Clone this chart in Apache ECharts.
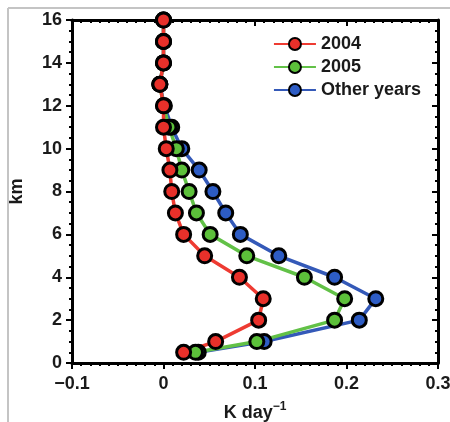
<!DOCTYPE html>
<html>
<head>
<meta charset="utf-8">
<script src="https://cdn.jsdelivr.net/npm/echarts@6/dist/echarts.min.js"></script>
<style>
  html, body { margin: 0; padding: 0; background: #fff; }
  #chart { width: 450px; height: 422px; }
</style>
</head>
<body>
<div id="chart"></div>
<script>
// heights (km) and heating rates (K/day)
const heights = [0.5, 1, 2, 3, 4, 5, 6, 7, 8, 9, 10, 11, 12, 13, 14, 15, 16];
const rate2004 = [0.022, 0.057, 0.104, 0.109, 0.083, 0.045, 0.022, 0.013, 0.009, 0.007, 0.003, 0.0, 0.0, -0.004, 0.0, 0.0, 0.0];
const rate2005 = [0.035, 0.102, 0.187, 0.198, 0.154, 0.091, 0.051, 0.036, 0.028, 0.020, 0.014, 0.006, 0.0, -0.004, 0.0, 0.0, 0.0];
const rateOther = [0.038, 0.110, 0.214, 0.232, 0.187, 0.126, 0.084, 0.068, 0.054, 0.039, 0.020, 0.009, 0.001, -0.004, 0.0, 0.0, 0.0];
const xTicks = [-0.1, 0, 0.1, 0.2, 0.3];
const yTicks = [0, 2, 4, 6, 8, 10, 12, 14, 16];

const pairs = vals => vals.map((v, i) => [v, heights[i]]);

function line(name, vals, lineColor, fill) {
  return {
    name: name,
    type: 'line',
    data: pairs(vals),
    symbol: 'circle',
    symbolSize: 14,
    lineStyle: { color: lineColor, width: 3.5 },
    itemStyle: { color: fill, borderColor: '#000', borderWidth: 3 },
    emphasis: { disabled: true }
  };
}

const chart = echarts.init(document.getElementById('chart'));
const labelFont = { color: '#1a1a1a', fontSize: 18, fontWeight: 'bold', fontFamily: 'Liberation Sans, Arial, sans-serif' };
const axisLn = { show: true, onZero: false, lineStyle: { color: '#000', width: 3 } };

chart.setOption({
  animation: false,
  // light grey frame of the original figure (top and left edges)
  graphic: [
    { type: 'line', shape: { x1: 8, y1: 8, x2: 450, y2: 8 }, style: { stroke: '#c4c4c4', lineWidth: 2 } },
    { type: 'line', shape: { x1: 8, y1: 8, x2: 8, y2: 422 }, style: { stroke: '#c4c4c4', lineWidth: 2 } }
  ],
  grid: { left: 72, right: 12, top: 20, bottom: 59, outerBoundsMode: 'none' },
  legend: {
    data: ['2004', '2005', 'Other years'],
    orient: 'vertical',
    right: 24,
    top: 30,
    itemWidth: 42,
    itemHeight: 15,
    itemGap: 5,
    textStyle: labelFont
  },
  xAxis: [{
    type: 'value',
    min: -0.1, max: 0.3, interval: 0.1,
    name: 'K day{sup|−1}',
    nameLocation: 'middle',
    nameGap: 38,
    nameTextStyle: Object.assign({
      rich: { sup: { fontSize: 12, fontWeight: 'bold', color: '#1a1a1a', verticalAlign: 'top', padding: [0, 0, 12, 0] } }
    }, labelFont),
    axisLine: axisLn,
    axisTick: { length: 6, lineStyle: { color: '#000', width: 2 } },
    minorTick: { show: true, splitNumber: 10, length: 3, lineStyle: { color: '#000', width: 2 } },
    splitLine: { show: false },
    axisLabel: Object.assign({
      margin: 12,
      formatter: v => {
        const t = xTicks.find(x => Math.abs(x - v) < 1e-9);
        if (t === undefined) return '';
        return t === 0 ? '0' : (t < 0 ? '−' + Math.abs(t) : String(t));
      }
    }, labelFont)
  }, {
    type: 'value',
    position: 'top',
    min: -0.1, max: 0.3, interval: 0.1,
    axisLine: axisLn,
    axisTick: { inside: true, length: 6, lineStyle: { color: '#000', width: 2 } },
    minorTick: { show: true, splitNumber: 10, length: 3, lineStyle: { color: '#000', width: 2 } },
    splitLine: { show: false },
    axisLabel: { show: false }
  }],
  yAxis: [{
    type: 'value',
    min: 0, max: 16, interval: 2,
    name: 'km',
    nameLocation: 'middle',
    nameGap: 46,
    nameRotate: 90,
    nameTextStyle: labelFont,
    axisLine: axisLn,
    axisTick: { length: 6, lineStyle: { color: '#000', width: 2 } },
    minorTick: { show: true, splitNumber: 4, length: 3, lineStyle: { color: '#000', width: 2 } },
    splitLine: { show: false },
    axisLabel: Object.assign({ margin: 10, formatter: v => yTicks.includes(v) ? String(v) : '' }, labelFont)
  }, {
    type: 'value',
    position: 'right',
    min: 0, max: 16, interval: 2,
    axisLine: axisLn,
    axisTick: { inside: true, length: 6, lineStyle: { color: '#000', width: 2 } },
    minorTick: { show: true, splitNumber: 4, length: 3, lineStyle: { color: '#000', width: 2 } },
    splitLine: { show: false },
    axisLabel: { show: false }
  }],
  series: [
    line('Other years', rateOther, '#3459b8', '#2d5cc4'),
    line('2005', rate2005, '#62c147', '#5cc03a'),
    line('2004', rate2004, '#ee3b32', '#e8302a')
  ]
});
</script>
</body>
</html>
